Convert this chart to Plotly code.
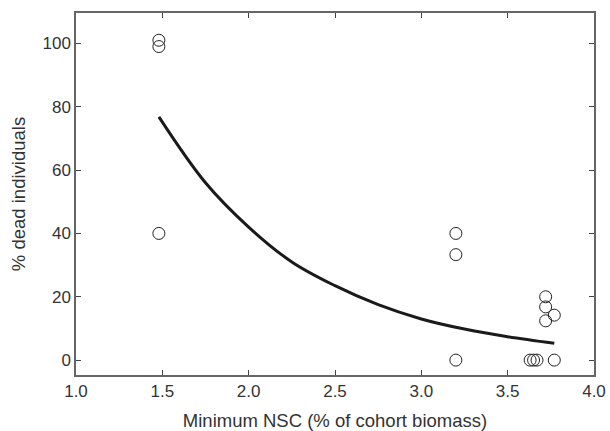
import plotly.graph_objects as go

# Observed data points
nsc_x = [1.48, 1.48, 1.48, 3.20, 3.20, 3.20, 3.63, 3.65, 3.67, 3.77, 3.72, 3.72, 3.77, 3.72]
dead_y = [101, 99, 40, 40, 33.3, 0, 0, 0, 0, 0, 20, 16.8, 14.2, 12.4]

# Fitted curve
curve_x = [1.48, 1.75, 2.0, 2.25, 2.5, 2.75, 3.0, 3.25, 3.5, 3.77]
curve_y = [76.8, 56.0, 42.0, 31.0, 23.5, 17.5, 13.0, 9.8, 7.4, 5.3]

x_ticks = [1.0, 1.5, 2.0, 2.5, 3.0, 3.5, 4.0]
x_tick_labels = ["1.0", "1.5", "2.0", "2.5", "3.0", "3.5", "4.0"]
y_ticks = [0, 20, 40, 60, 80, 100]

fig = go.Figure()
fig.add_trace(go.Scatter(
    x=curve_x, y=curve_y, mode="lines",
    line=dict(color="#1a1a1a", width=3, shape="spline"),
    showlegend=False, hoverinfo="skip"))
fig.add_trace(go.Scatter(
    x=nsc_x, y=dead_y, mode="markers",
    marker=dict(symbol="circle-open", size=12, color="#222222", line=dict(width=1)),
    showlegend=False))

axis_common = dict(
    showline=True, linecolor="#666666", linewidth=1.5, mirror="allticks",
    ticks="inside", ticklen=5, tickcolor="#444444", tickwidth=1,
    showgrid=False, zeroline=False, automargin=False,
    tickfont=dict(family="Liberation Sans, Arial, sans-serif", size=17, color="#333333"),
)

fig.update_layout(
    width=610, height=431,
    margin=dict(l=76, r=16, t=13, b=56),
    paper_bgcolor="white", plot_bgcolor="white",
    font=dict(family="Liberation Sans, Arial, sans-serif", color="#333333"),
    xaxis=dict(range=[1.0, 4.0], tickvals=x_ticks, ticktext=x_tick_labels,
               title=dict(text="Minimum NSC (% of cohort biomass)", font=dict(size=18.5), standoff=18),
               **axis_common),
    yaxis=dict(range=[-4.7, 109.6], tickvals=y_ticks,
               title=dict(text="% dead individuals", font=dict(size=18.5), standoff=12),
               **axis_common),
)

fig.write_html("out.html", config={"displayModeBar": False},
               post_script="document.body.style.margin='0';")
